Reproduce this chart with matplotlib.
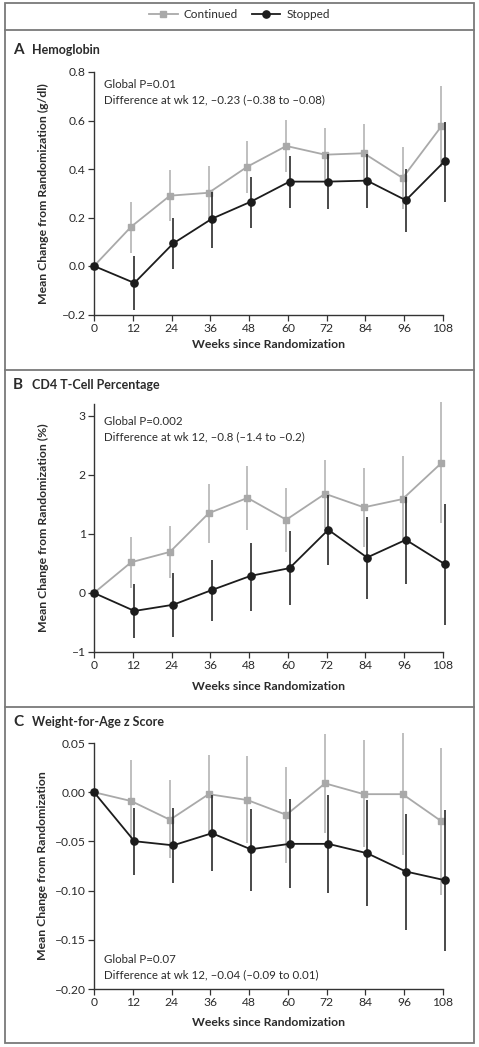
import matplotlib
matplotlib.use('Agg')
import matplotlib.pyplot as plt
from matplotlib.lines import Line2D
from matplotlib.patches import Rectangle
import numpy as np

plt.rcParams['font.family'] = ['Lato', 'DejaVu Sans']

# weeks since randomization
weeks = [0, 12, 24, 36, 48, 60, 72, 84, 96, 108]

# A: hemoglobin (g/dl)
hb_cont = [0, 0.162, 0.29, 0.302, 0.41, 0.495, 0.459, 0.465, 0.363, 0.576]
hb_cont_lo = [0, 0.055, 0.187, 0.19, 0.302, 0.389, 0.35, 0.35, 0.234, 0.41]
hb_cont_hi = [0, 0.265, 0.396, 0.414, 0.515, 0.602, 0.569, 0.584, 0.492, 0.742]
hb_stop = [0, -0.07, 0.093, 0.195, 0.265, 0.348, 0.348, 0.352, 0.271, 0.432]
hb_stop_lo = [0, -0.181, -0.014, 0.075, 0.158, 0.238, 0.235, 0.24, 0.141, 0.265]
hb_stop_hi = [0, 0.041, 0.197, 0.306, 0.367, 0.455, 0.46, 0.46, 0.399, 0.594]

# B: CD4 T-cell percentage
cd4_cont = [0, 0.52, 0.695, 1.35, 1.61, 1.24, 1.68, 1.45, 1.59, 2.2]
cd4_cont_lo = [0, 0.09, 0.25, 0.85, 1.07, 0.695, 1.1, 0.785, 0.9, 1.18]
cd4_cont_hi = [0, 0.94, 1.135, 1.84, 2.15, 1.785, 2.25, 2.11, 2.32, 3.23]
cd4_stop = [0, -0.305, -0.2, 0.05, 0.29, 0.42, 1.07, 0.6, 0.9, 0.49]
cd4_stop_lo = [0, -0.77, -0.74, -0.47, -0.3, -0.21, 0.47, -0.1, 0.16, -0.54]
cd4_stop_hi = [0, 0.15, 0.33, 0.56, 0.85, 1.05, 1.66, 1.28, 1.62, 1.51]

# C: weight-for-age z score
wfa_cont = [0, -0.009, -0.028, -0.002, -0.008, -0.023, 0.009, -0.002, -0.002, -0.0295]
wfa_cont_lo = [0, -0.05, -0.067, -0.042, -0.052, -0.072, -0.041, -0.056, -0.064, -0.104]
wfa_cont_hi = [0, 0.033, 0.012, 0.038, 0.037, 0.026, 0.059, 0.053, 0.060, 0.045]
wfa_stop = [0, -0.0498, -0.054, -0.0417, -0.058, -0.0525, -0.0525, -0.062, -0.0806, -0.0894]
wfa_stop_lo = [0, -0.084, -0.092, -0.080, -0.1, -0.097, -0.102, -0.116, -0.140, -0.161]
wfa_stop_hi = [0, -0.0156, -0.016, -0.003, -0.0166, -0.007, -0.003, -0.008, -0.0217, -0.018]

W, H = 479, 1047
GRAY = '#a9a9a9'
BLACK = '#1c1c1c'
TXT = '#2b2b2b'

fig = plt.figure(figsize=(W / 100, H / 100), dpi=100)


def px_axes(left, top, right, bottom):
    return fig.add_axes([left / W, 1 - bottom / H, (right - left) / W, (bottom - top) / H])


def draw_series(ax, mean, lo, hi, dx, color, ecolor, marker, ms, z):
    x = np.array(weeks, dtype=float)
    x[1:] += dx
    mean = np.array(mean)
    yerr = [mean - np.array(lo), np.array(hi) - mean]
    ax.errorbar(x, mean, yerr=yerr, fmt='none', ecolor=ecolor, elinewidth=1.2,
                capsize=0, zorder=z, clip_on=False)
    ax.plot(x, mean, color=color, lw=1.3, marker=marker, ms=ms, mfc=color,
            mec=color, zorder=z + 1, clip_on=False)


def panel(letter, title, top, bottom, title_y, ylim, yticks, fmt, ylabel,
          cont, stop, note, note_y, xlab_y):
    ax = px_axes(94, top, 443, bottom)
    draw_series(ax, *cont, -0.5, GRAY, '#b4b4b4', 's', 4.3, 2)
    draw_series(ax, *stop, 0.5, BLACK, '#2a2a2a', 'o', 5.2, 4)
    ax.set_xlim(0, 108)
    ax.set_ylim(*ylim)
    ax.set_xticks(weeks)
    ax.set_yticks(yticks)
    ax.set_yticklabels([fmt.format(v).replace('-', '\u2013') for v in yticks])
    for s in ['top', 'right']:
        ax.spines[s].set_visible(False)
    for s in ['left', 'bottom']:
        ax.spines[s].set_color('#333333')
        ax.spines[s].set_linewidth(1.0)
    ax.tick_params(direction='out', length=4, width=0.9, color='#333333',
                   labelsize=8.7, labelcolor=TXT, pad=2)
    ax.set_xlabel('Weeks since Randomization', fontsize=8.8, fontweight='bold', color=TXT)
    ax.xaxis.label.set_va('center')
    ax.xaxis.set_label_coords(0.5, -(xlab_y - bottom) / (bottom - top))
    ax.set_ylabel(ylabel, fontsize=8.8, fontweight='bold', color=TXT)
    ax.yaxis.label.set_va('center')
    ax.yaxis.set_label_coords((43 - 94) / 349, 0.5)
    ax.text(10 / 349, (bottom - note_y) / (bottom - top), note, transform=ax.transAxes,
            fontsize=8.3, color=TXT, va='center', ha='left', linespacing=1.4)
    fig.text(13 / W, 1 - title_y / H, letter, fontsize=11, fontweight='bold',
             color=TXT, va='center')
    fig.text(32 / W, 1 - title_y / H, title, fontsize=9, fontweight='bold',
             color=TXT, va='center')
    return ax


panel('A', 'Hemoglobin', 72, 314.5, 50, (-0.2, 0.8), [-0.2, 0, 0.2, 0.4, 0.6, 0.8],
      '{:.1f}', 'Mean Change from Randomization (g/dl)',
      (hb_cont, hb_cont_lo, hb_cont_hi), (hb_stop, hb_stop_lo, hb_stop_hi),
      'Global P=0.01\nDifference at wk 12, \u20130.23 (\u20130.38 to \u20130.08)', 92, 345)

panel('B', 'CD4 T-Cell Percentage', 404, 652, 385, (-1, 3.2), [-1, 0, 1, 2, 3],
      '{:.0f}', 'Mean Change from Randomization (%)',
      (cd4_cont, cd4_cont_lo, cd4_cont_hi), (cd4_stop, cd4_stop_lo, cd4_stop_hi),
      'Global P=0.002\nDifference at wk 12, \u20130.8 (\u20131.4 to \u20130.2)', 429, 687)

panel('C', 'Weight-for-Age z Score', 743, 989, 722, (-0.2, 0.05),
      [-0.2, -0.15, -0.1, -0.05, 0, 0.05],
      '{:.2f}', 'Mean Change from Randomization',
      (wfa_cont, wfa_cont_lo, wfa_cont_hi), (wfa_stop, wfa_stop_lo, wfa_stop_hi),
      'Global P=0.07\nDifference at wk 12, \u20130.04 (\u20130.09 to 0.01)', 967, 1023)

# legend at the top
handles = [Line2D([], [], color=GRAY, lw=1.3, marker='s', ms=4.3),
           Line2D([], [], color=BLACK, lw=1.3, marker='o', ms=5.2)]
leg = fig.legend(handles, ['Continued', 'Stopped'], loc='center', ncol=2,
                 bbox_to_anchor=(0.5, 1 - 15 / H), frameon=False, fontsize=8.5,
                 handlelength=2.4, columnspacing=1.2, handletextpad=0.5)
for t in leg.get_texts():
    t.set_color(TXT)

# outer frame and dividers
fig.add_artist(Rectangle((5 / W, 1 - 1043 / H), 469 / W, 1040 / H, transform=fig.transFigure,
                         fill=False, edgecolor='#7a7a7a', lw=1.3))
for y in [30, 370, 707]:
    fig.add_artist(Line2D([5 / W, 474 / W], [1 - y / H, 1 - y / H], transform=fig.transFigure,
                          color='#7a7a7a', lw=1.3))

fig.savefig('out.png', dpi=100)
